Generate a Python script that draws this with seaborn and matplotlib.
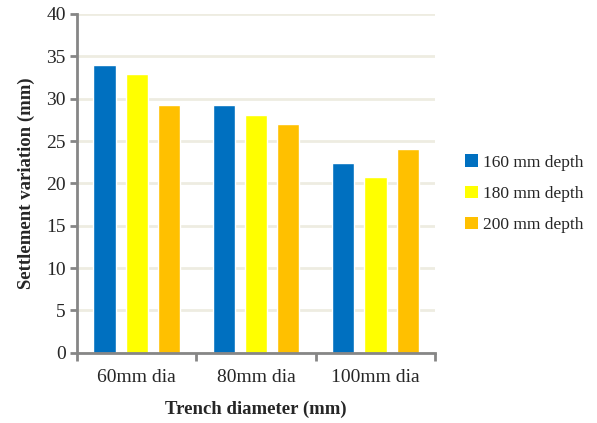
import pandas as pd
import matplotlib.pyplot as plt
import seaborn as sns
from matplotlib.patches import Patch

# values
diameters = ['60mm dia', '80mm dia', '100mm dia']
depths = ['160 mm depth', '180 mm depth', '200 mm depth']
depth_160 = [34.0, 29.3, 22.4]
depth_180 = [32.9, 28.1, 20.7]
depth_200 = [29.2, 27.0, 24.0]
colors = ['#0070C0', '#FFFF00', '#FFC000']

rows = []
for depth, vals in zip(depths, [depth_160, depth_180, depth_200]):
    for d, v in zip(diameters, vals):
        rows.append({'Diameter': d, 'Depth': depth, 'Settlement': v})
data = pd.DataFrame(rows)

sns.set_style('white')
plt.rcParams['font.family'] = ['Liberation Serif', 'DejaVu Serif']

fig = plt.figure(figsize=(5.97, 4.23), dpi=100)
ax = fig.add_axes([0.129, 0.166, 0.600, 0.801])

sns.barplot(data=data, x='Diameter', y='Settlement', hue='Depth',
            palette=colors, width=0.81, gap=0.31, saturation=1,
            legend=False, ax=ax)

ax.set_ylim(0, 40)
ax.set_xlim(-0.5, 2.5)
ax.set_yticks(range(0, 41, 5))
ax.yaxis.grid(True, color='#EEECE1', linewidth=2)
ax.set_axisbelow(True)

for s in ['top', 'right']:
    ax.spines[s].set_visible(False)
for s in ['left', 'bottom']:
    ax.spines[s].set_color('#868686')
    ax.spines[s].set_linewidth(2)

ax.tick_params(axis='y', length=5, width=2, color='#868686', labelsize=14, pad=3, left=True)
ax.set_xticks([-0.5, 0.5, 1.5, 2.5], minor=True)
ax.tick_params(axis='x', which='minor', length=6, width=2, color='#868686', bottom=True)
ax.tick_params(axis='x', which='major', length=0, labelsize=14, pad=12)

ax.set_xlabel('Trench diameter (mm)', fontsize=13.5, fontweight='bold', labelpad=10)
ax.set_ylabel('Settlement variation (mm)', fontsize=13.5, fontweight='bold', labelpad=8)

handles = [Patch(facecolor=c, edgecolor='none') for c in colors]
fig.legend(handles, depths, loc='center left', bbox_to_anchor=(0.752, 0.542),
           frameon=False, prop={'family': ['Liberation Serif'], 'size': 12.5},
           handlelength=0.75, handleheight=0.75,
           handletextpad=0.3, labelspacing=0.85)

fig.savefig('out.png', dpi=100)
